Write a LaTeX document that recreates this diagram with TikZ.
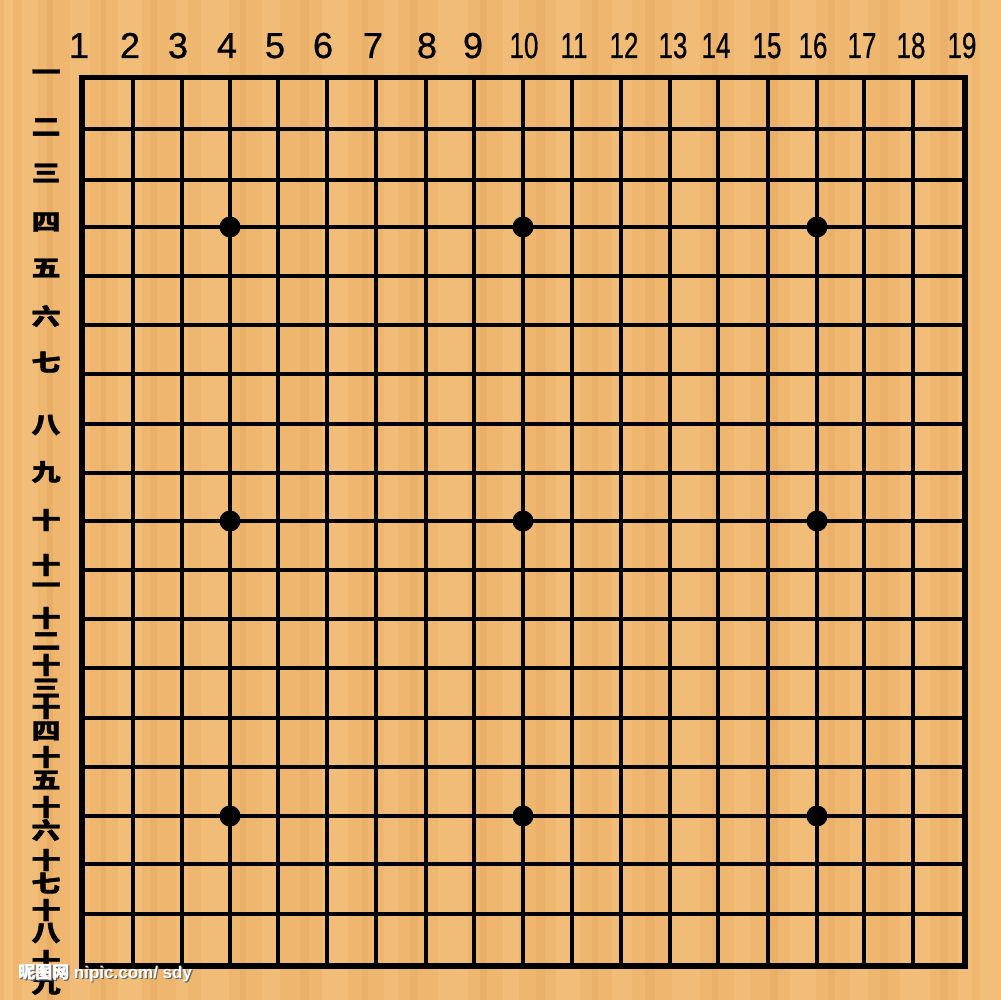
\documentclass[tikz,border=0pt]{standalone}
\usepackage{fontspec}
\setmainfont{Liberation Sans}
\newfontfamily\digitfont[FakeBold=0.8]{Liberation Sans}
\newfontfamily\cjk[BoldFeatures={FakeBold=1.5}]{Noto Sans CJK SC}
\definecolor{woodbase}{RGB}{238,182,110}
\definecolor{woodlight}{RGB}{248,204,140}
\definecolor{wooddark}{RGB}{224,160,90}
\definecolor{markgray}{RGB}{100,100,100}
\tikzset{
  gridline/.style={line width=3.2pt,black},
  borderline/.style={line width=5.2pt,black,line join=miter},
  starpt/.style={circle,fill=black,minimum size=21pt,inner sep=0pt},
  collabel/.style={anchor=base,inner sep=0pt,font=\digitfont\fontsize{36}{36}\selectfont},
  rowlabel/.style={inner sep=0pt,yscale=0.8,font=\cjk\bfseries\fontsize{29}{29}\selectfont},
  marktext/.style={anchor=base west,inner sep=0pt,font=\bfseries\fontsize{17}{17}\selectfont}
}
\begin{document}
\begin{tikzpicture}[x=1pt,y=-1pt]
\fill[woodbase] (0,0) rectangle (1001,1000);
\useasboundingbox (0,0) rectangle (1001,1000);
% wood grain stripes
\foreach \a/\w/\c/\o in {4/9/woodlight/0.5,22/16/woodlight/0.35,47/6/wooddark/0.3,70/20/woodlight/0.3,101/5/wooddark/0.25,118/24/woodlight/0.35,150/7/wooddark/0.2,176/12/woodlight/0.3,201/28/woodlight/0.3,240/6/wooddark/0.25,262/18/woodlight/0.3,300/9/wooddark/0.2,322/26/woodlight/0.35,362/6/wooddark/0.2,384/14/woodlight/0.3,410/8/wooddark/0.2,438/30/woodlight/0.3,480/7/wooddark/0.25,503/16/woodlight/0.3,536/9/wooddark/0.2,556/24/woodlight/0.35,592/6/wooddark/0.2,612/20/woodlight/0.3,645/10/wooddark/0.2,672/28/woodlight/0.3,712/6/wooddark/0.2,734/16/woodlight/0.3,770/8/wooddark/0.25,790/26/woodlight/0.35,828/7/wooddark/0.2,850/18/woodlight/0.3,880/8/wooddark/0.2,900/30/woodlight/0.35,940/8/wooddark/0.2,958/14/woodlight/0.35,980/21/woodlight/0.45}
  \fill[\c,opacity=\o] (\a,0) rectangle ++(\w,1000);
% grid
\def\xs{82,133,182,230,278,327,376,426,474,523,572,621,670,718,768,817,864,913,965}
\def\ys{77.5,129,180,227,276,325,374,424,473,521,570,619,668,718,767,816,864,914,966}
\foreach \x in \xs {\draw[gridline] (\x,77.5) -- (\x,966);}
\foreach \y in \ys {\draw[gridline] (82,\y) -- (965,\y);}
\draw[borderline] (82,77.5) rectangle (965,966);
% star points
\foreach \x/\i in {230/a,523/b,817/c}
  \foreach \y/\j in {227/a,521/b,816/c}
    \node[starpt] (star\i\j) at (\x,\y) {};
% column labels
\foreach \x/\t/\s in {79/1/1,130/2/1,178/3/1,227/4/1,275/5/1,323/6/1,373/7/1,427/8/1,473/9/1,524/10/0.72,574/11/0.72,624/12/0.72,673/13/0.72,716/14/0.72,767/15/0.72,813/16/0.72,862/17/0.72,911/18/0.72,962/19/0.72}
  \node[collabel,xscale=\s] (col\t) at (\x,58) {\t};
% row labels
\foreach \y/\t/\n in {75/一/1,127/二/2,173/三/3,222/四/4,268/五/5,316/六/6,362/七/7,425/八/8,472/九/9,520/十/10}
  \node[rowlabel] (row\n) at (46,\y) {\t};
\foreach \y/\t/\n in {565/一/11,618/二/12,665/三/13,708/四/14,757/五/15,807/六/16,860/七/17,910/八/18,961/九/19}{
  \node[rowlabel] (rowa\n) at (46,\y) {十};
  \node[rowlabel] (rowb\n) at (46,\y+23) {\t};
}
% watermark
\node[marktext,text=markgray] (markshadow) at (19.2,979.2) {{\cjk 昵图网} nipic.com/ sdy};
\node[marktext,text=white] (mark) at (18,978) {{\cjk 昵图网} nipic.com/ sdy};
\end{tikzpicture}
\end{document}
